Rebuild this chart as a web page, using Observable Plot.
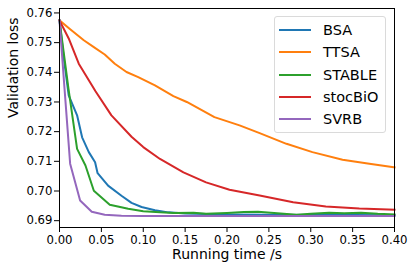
<!DOCTYPE html>
<html>
<head>
<meta charset="utf-8">
<script src="https://cdn.jsdelivr.net/npm/d3@7"></script>
<script src="https://cdn.jsdelivr.net/npm/@observablehq/plot@0.6"></script>
<style>
  html, body { margin: 0; padding: 0; background: #fff; }
  #wrap { position: relative; width: 414px; height: 271px; font-family: "DejaVu Sans", sans-serif; }
  #legend { position: absolute; left: 274px; top: 16px; width: 112px; height: 117px;
    border: 1px solid #dadada; border-radius: 3px; background: rgba(255,255,255,0.85); box-sizing: border-box; }
  .row { position: absolute; left: 0; height: 20px; font-size: 14.5px; color: #000; }
  .sw { position: absolute; left: 4px; top: 9px; width: 32px; height: 2px; }
  .lab { position: absolute; left: 48px; top: 0; white-space: nowrap; line-height: 20px; }
</style>
</head>
<body>
<div id="wrap"><div id="legend"></div></div>
<script>
const seriesNames = ["BSA", "TTSA", "STABLE", "stocBiO", "SVRB"];
const colors = ["#1f77b4", "#ff7f0e", "#2ca02c", "#d62728", "#9467bd"];

const bsaT = [0, 0.005, 0.011, 0.021, 0.027, 0.035, 0.0425, 0.0455, 0.058, 0.074, 0.086, 0.098, 0.114, 0.13, 0.15, 0.2, 0.25, 0.3, 0.35, 0.4];
const bsaV = [0.7575, 0.745, 0.7322, 0.7255, 0.7181, 0.7131, 0.7097, 0.706, 0.7018, 0.6984, 0.696, 0.6946, 0.6935, 0.6928, 0.6924, 0.6921, 0.692, 0.6919, 0.6919, 0.6918];

const ttsaT = [0, 0.012, 0.029, 0.041, 0.054, 0.066, 0.080, 0.094, 0.114, 0.136, 0.152, 0.185, 0.215, 0.239, 0.271, 0.302, 0.338, 0.37, 0.4];
const ttsaV = [0.7575, 0.7547, 0.7508, 0.7485, 0.746, 0.7429, 0.7401, 0.7384, 0.7356, 0.732, 0.73, 0.7249, 0.7221, 0.7195, 0.7159, 0.7131, 0.7105, 0.7092, 0.708];

const stableT = [0, 0.0107, 0.021, 0.031, 0.041, 0.06, 0.082, 0.1, 0.12, 0.136, 0.16, 0.175, 0.2, 0.22, 0.237, 0.26, 0.283, 0.3, 0.322, 0.34, 0.36, 0.38, 0.4];
const stableV = [0.7575, 0.7345, 0.7142, 0.7086, 0.7001, 0.6954, 0.694, 0.6932, 0.6928, 0.6926, 0.6927, 0.6923, 0.6926, 0.6929, 0.693, 0.6925, 0.692, 0.6923, 0.6927, 0.6925, 0.6927, 0.6923, 0.6921];

const stocT = [0, 0.011, 0.023, 0.043, 0.062, 0.086, 0.1, 0.12, 0.148, 0.175, 0.203, 0.239, 0.279, 0.318, 0.358, 0.4];
const stocV = [0.7575, 0.7514, 0.7429, 0.7336, 0.7255, 0.7183, 0.7148, 0.7108, 0.7063, 0.7029, 0.7004, 0.6985, 0.6962, 0.6948, 0.6941, 0.6937];

const svrbT = [0, 0.006, 0.0127, 0.0246, 0.0385, 0.054, 0.074, 0.1, 0.2, 0.3, 0.4];
const svrbV = [0.7575, 0.7345, 0.7092, 0.6968, 0.693, 0.692, 0.6917, 0.6916, 0.6916, 0.6916, 0.6916];

const xTicks = [0, 0.05, 0.1, 0.15, 0.2, 0.25, 0.3, 0.35, 0.4];
const yTicks = [0.69, 0.70, 0.71, 0.72, 0.73, 0.74, 0.75, 0.76];

const allT = [bsaT, ttsaT, stableT, stocT, svrbT];
const allV = [bsaV, ttsaV, stableV, stocV, svrbV];
const data = [];
seriesNames.forEach((name, i) => {
  allT[i].forEach((t, j) => data.push({series: name, t, v: allV[i][j]}));
});

const chart = Plot.plot({
  width: 414,
  height: 271,
  marginLeft: 59,
  marginRight: 20,
  marginTop: 8,
  marginBottom: 44,
  style: {fontFamily: "DejaVu Sans, sans-serif", fontSize: "11.7px", color: "#000", background: "#fff"},
  x: {domain: [0, 0.4]},
  y: {domain: [0.6877, 0.7615]},
  color: {domain: seriesNames, range: colors},
  marks: [
    Plot.line(data, {x: "t", y: "v", z: "series", stroke: "series", strokeWidth: 2, strokeLinejoin: "round", strokeLinecap: "square"}),
    Plot.frame({stroke: "#000", strokeWidth: 1}),
    Plot.axisX({ticks: xTicks, tickFormat: d3.format(".2f"), tickSize: 5, tickPadding: 3, label: null, stroke: "#000"}),
    Plot.axisY({ticks: yTicks, tickFormat: d3.format(".2f"), tickSize: 5, tickPadding: 2, label: null, stroke: "#000"}),
    Plot.text(["Running time /s"], {frameAnchor: "bottom", dy: 31, fontSize: 14, fill: "#000"}),
    Plot.text(["Validation loss"], {frameAnchor: "left", dx: -46, rotate: -90, fontSize: 14, fill: "#000"})
  ]
});
document.getElementById("wrap").prepend(chart);

const legend = document.getElementById("legend");
seriesNames.forEach((name, i) => {
  const row = document.createElement("div");
  row.className = "row";
  row.style.top = (3 + i * 22.3) + "px";
  row.style.width = "100%";
  const sw = document.createElement("div");
  sw.className = "sw";
  sw.style.background = colors[i];
  const lab = document.createElement("div");
  lab.className = "lab";
  lab.textContent = name;
  row.appendChild(sw);
  row.appendChild(lab);
  legend.appendChild(row);
});
</script>
</body>
</html>
